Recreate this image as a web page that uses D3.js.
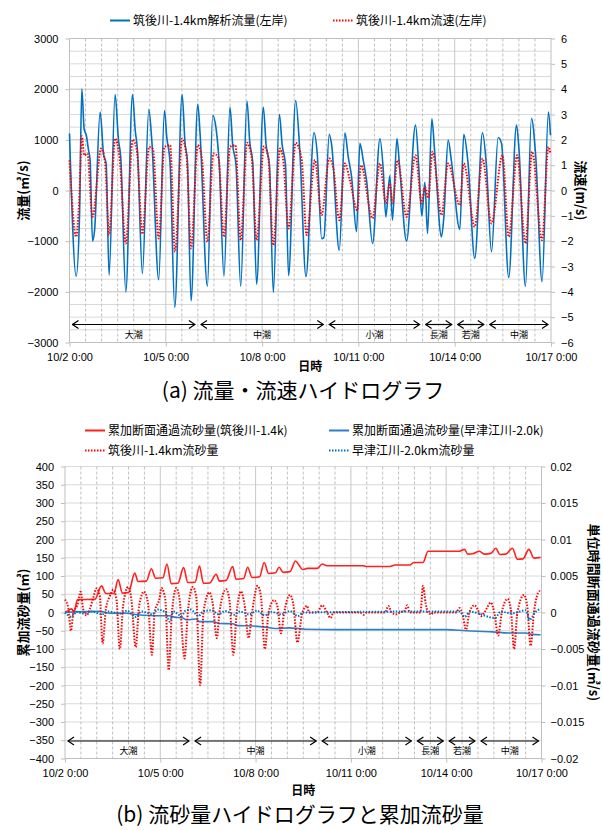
<!DOCTYPE html>
<html>
<head>
<meta charset="utf-8">
<script src="https://cdn.jsdelivr.net/npm/d3@7/dist/d3.min.js"></script>
<style>
body { margin: 0; background: #fff; }
text { font-family: "Liberation Sans", Arial, sans-serif; fill: #000; }
.jp { font-family: "Noto Sans CJK JP", sans-serif; }
</style>
</head>
<body>
<svg id="chart" width="603" height="830"></svg>
<script>
// ---- data (time = hours after 10/2 0:00) ----
var xTickLabels = ['10/2 0:00', '10/5 0:00', '10/8 0:00', '10/11 0:00', '10/14 0:00', '10/17 0:00'];
var tideNames = ['大潮', '中潮', '小潮', '長潮', '若潮', '中潮'];
var tideBounds = ['10/2 0:00', '10/6 0:00', '10/10 0:00', '10/13 0:00', '10/14 0:00', '10/15 0:00', '10/17 0:00'];

// (a) 筑後川-1.4km 解析流量 (m3/s)
var flowQ = [[0,1125],[5.0,-1690],[7.5,-500],[9.2,2000],[11.0,1200],[12.5,1100],[14.2,800],[15.4,600],[17.2,-1000],[18.7,-800],
  [22.9,1550],[25.4,730],[27.4,530],[29.6,-1670],[34.1,1895],[36.6,1000],[38.3,660],[42.1,-2000],[47.1,1895],[49.1,1200],
  [50.8,800],[54.5,-1640],[59.3,1600],[61.5,1000],[66.7,-1760],[71.0,1580],[72.7,1060],[75.2,530],[78.7,-2310],[84.2,1895],
  [86.4,930],[88.1,600],[90.9,-2180],[95.9,1700],[97.6,1130],[103.1,-1890],[107.1,1480],[109.6,1220],[112,500],[115.5,-1690],
  [120.0,1640],[122,900],[124.5,500],[128.0,-1890],[132.7,1760],[134.8,950],[137,550],[139.9,-1850],[144.9,1640],[147,900],
  [149.5,500],[152.4,-2010],[156.9,1500],[159,900],[161.5,500],[163.8,-1680],[169.1,1775],[172.3,730],[176.8,-1700],[182.8,1140],
  [185.3,700],[188.5,-950],[190.2,-930],[194.2,1110],[196.0,900],[201.7,-1180],[205.9,1140],[208.4,665],[210.9,270],[214.6,-815],
  [217.1,930],[219.6,600],[222.1,200],[226.6,-1045],[232.1,1020],[234.6,400],[236.5,-520],[239.5,290],[241.5,-585],[244.8,1025],
  [247.0,400],[252.0,-1000],[258.7,1290],[261.4,340],[263.4,-500],[265.7,160],[267.7,-850],[270.9,1415],[273.1,730],[278.1,-915],
  [279.9,-520],[283.1,995],[285.6,570],[291.8,-770],[294.8,1110],[298.0,535],[303.0,-1340],[308.8,1140],[311.7,500],[315.5,-1210],
  [320.5,1045],[323.0,930],[328.4,-1717],[334.2,1290],[336.1,800],[340.9,-1890],[345.4,1420],[348.6,665],[353.3,-1800],[358.1,1550],
  [359.6,1090]];

// (a) 筑後川-1.4km 流速 (m/s)
var velocityV = [[0,1.2],[5.0,-1.83],[7.2,-0.45],[9.2,2.14],[11.0,1.39],[13.4,1.46],[17.2,-1.04],[23.7,1.66],[26.6,1.1],[29.6,-1.76],
  [34.1,2.05],[37.4,1.3],[42.1,-2.09],[47.3,2.01],[50.3,1.6],[54.5,-1.72],[59.5,1.72],[62.3,1.65],[66.7,-1.89],[71.0,1.72],
  [75.2,1.79],[78.9,-2.42],[84.2,2.05],[87.6,1.3],[90.9,-2.29],[95.9,1.79],[98.9,1.3],[103.1,-2.03],[107.6,1.46],[111.3,1.3],
  [115.5,-1.83],[120.0,1.72],[124.0,1.79],[128.0,-1.96],[132.7,1.88],[136.2,1.3],[139.9,-1.96],[145.4,1.75],[148.6,1.3],[152.4,-2.16],
  [157.4,1.66],[159.8,1.2],[163.8,-1.5],[169.1,1.88],[173.5,1.26],[177.3,-1.76],[183.5,1.2],[188.5,-0.97],[194.2,1.26],[197.2,0.9],
  [201.7,-1.17],[205.9,1.07],[209.7,0.4],[215.1,-0.78],[217.9,1.0],[226.6,-1.1],[232.1,1.07],[236.5,-0.5],[239.5,0.28],[241.5,-0.5],
  [245.3,1.2],[252.0,-1.04],[258.7,1.39],[263.4,-0.51],[265.7,0.14],[268.2,-0.3],[271.4,1.53],[278.1,-0.97],[283.1,1.07],[291.8,-0.58],
  [294.8,1.07],[303.0,-1.43],[308.8,1.26],[315.5,-1.3],[323.7,1.39],[328.4,-1.83],[334.7,1.39],[340.9,-2.09],[345.9,1.53],[353.3,-1.96],
  [358.1,1.72],[359.6,1.46]];

// (b) 累加断面通過流砂量 筑後川-1.4k (m3)
var cumChikugo = [[0,0],[3.8,8],[5,10],[6.8,0],[9.3,35],[22.6,36],[27.6,73],[30.9,52],[37,52],[40.1,90],[43.4,53],[48,55],
  [52.7,108],[55.2,85],[61.5,86],[65.2,120],[68.5,94],[74,95],[77,133],[80.3,79],[85.3,80],[89.6,123],[92.8,82],[98.3,83],
  [101.6,127],[104.6,80],[109.3,81],[114.2,105],[116.7,86],[121.7,88],[126.7,126],[129.2,91],[135,93],[138,124],[141.3,96],
  [147,98],[150.5,137],[153.8,107],[159,109],[161.8,124],[164.8,110],[170,112],[174.2,141],[176.7,130],[179.5,118],[183,121],
  [190.5,121],[194.3,133],[198,128],[225.5,128],[228,126],[245.5,126],[249.3,130],[260.5,130],[263.5,137],[270.5,137],[274.3,168],
  [298,168],[301.8,173],[304.3,160],[308,161],[313,168],[316.8,160],[321.8,162],[325.5,176],[328.5,159],[333,160],[338,176],
  [341.8,146],[346,147],[350.5,173],[354.3,149],[359.3,151]];

// (b) 累加断面通過流砂量 早津江川-2.0k (m3)
var cumHayatsue = [[0,0],[26.3,3],[33.9,-2],[46.4,-2],[56.5,-7],[69,-9],[79,-9],[81.5,-12],[89,-15],[91.6,-20],[99,-18],
  [101.6,-25],[111.6,-25],[116.7,-30],[126.7,-31],[130.5,-36],[141.5,-37],[151.5,-40],[159,-44],[169,-42],[176.7,-44],[182,-46],
  [203,-47],[288,-47],[303,-50],[323,-53],[335.5,-56],[348,-56],[353,-60],[359.3,-61]];

// (b) 筑後川-1.4km 流砂量 (m3/s)
var fluxChikugo = [[0,0.00175],[2.5,0.0006],[4.5,-0.0025],[6.3,0],[9.3,0.001],[11.8,0.00285],[13.8,0.0004],[16.3,-0.0004],
  [18.8,0.0005],[21.3,0.002],[23.8,0.0033],[26.3,0.00225],[28.4,-0.00425],[30.9,0.0005],[33.9,0.00225],[36.4,0.0031],[38.9,0.00175],
  [41.4,-0.005],[43.9,0.0009],[47.7,0.0035],[50.2,0.00175],[53.4,-0.00475],[56.0,0.0009],[59.7,0.00285],[62.7,0.00125],[65.7,-0.0058],
  [67.7,0],[71.5,0.002],[72.8,0.00335],[75.8,0.00175],[78.3,-0.0079],[80.8,0],[84.1,0.00335],[86.6,0.00175],[90.3,-0.0063],[92.8,0],
  [96.6,0.0035],[99.1,0.00225],[102.1,-0.00995],[104.6,0],[109.1,0.00275],[111.6,0.00125],[114.7,-0.0035],[116.7,0],[121.7,0.0032],
  [124.2,0.00175],[127.2,-0.0058],[129.7,0],[133.0,0.0029],[135.5,0.00125],[138.7,-0.0035],[141.3,0],[145.5,0.00365],[148.0,0.00225],
  [151.0,-0.005],[153.8,0],[158.1,0.0017],[160.6,0.00075],[163.1,-0.00285],[165.6,0],[169.9,0.0024],[172.4,0.00125],[175.6,-0.0041],
  [179.3,0],[183,0.0009],[184.3,0],[190.5,0],[194.3,0.001],[198,0],[200.5,-0.00075],[203,0],[223,0],[225.5,-0.0003],[228,0],
  [241.8,0],[244.3,0.0009],[246.8,0],[250.5,-0.00025],[253,0],[256.8,0.00025],[258.5,0.001],[260.5,0],[268.5,0],[270.5,0.00365],
  [272.5,0.00125],[274.3,0],[276.8,-0.00025],[278,0],[295.5,0],[298,0.0006],[300,0],[303,-0.00235],[305.5,0],[309.3,0.001],
  [311.8,0.0004],[314.3,-0.0005],[316.8,0],[321.8,0.00135],[324.3,0],[327.3,-0.00315],[330,0],[334.3,0.00185],[336.8,0.0005],
  [339.3,-0.005],[341.8,0],[346.8,0.0024],[349.3,0.00075],[351.8,-0.00455],[354.3,0],[358.5,0.0029],[359.3,0.00275]];

// (b) 早津江川-2.0km 流砂量 (m3/s)
var fluxHayatsue = [[0,0],[5,-0.0006],[9,0.0001],[14,-0.00015],[20,0.00015],[28,-0.00025],[33,0.00015],[41,-0.00015],[47,0.00025],
  [53,-0.0006],[58,0.00015],[66,-0.00025],[70,0.0004],[76,0],[79,-0.00125],[82,0.00015],[88,-0.0005],[91,0.00025],[95,0.0004],
  [101,-0.0005],[104,0.0001],[111,0.0003],[116,-0.00025],[121,0.0002],[128,-0.0003],[132,0.00015],[139,-0.00025],[145,0.00025],
  [151,-0.0004],[156,0.0001],[163,-0.00025],[170,0.0002],[176,-0.0005],[180,0],[298,0.00015],[302,-0.0006],[306,0.0001],
  [325,-0.00075],[329,0.0001],[338,-0.0001],[348,0.0003],[351,-0.001],[355,0],[359.3,0.0005]];

// ---- helpers ----
var parseT = d3.timeParse('%m/%d %H:%M');
var t0 = parseT('10/2 0:00');
function hrs(h) { return new Date(t0.getTime() + h * 3600e3); }

var svg = d3.select('#chart');

// open arrow head (points along +x, start one is flipped)
svg.append('defs').append('marker').attr('id', 'arr').attr('viewBox', '-7 -5 8 10')
  .attr('refX', 0).attr('refY', 0).attr('markerWidth', 8).attr('markerHeight', 10)
  .attr('markerUnits', 'userSpaceOnUse').attr('orient', 'auto-start-reverse')
  .append('path').attr('d', 'M-6,-4L0,0L-6,4').attr('fill', 'none').attr('stroke', '#000').attr('stroke-width', 1.2);

function drawPanel(p) {
  var x = d3.scaleTime().domain([t0, hrs(360)]).range([p.left, p.right]);
  var yL = d3.scaleLinear().domain(p.yLdom).range([p.bottom, p.top]);
  var yR = d3.scaleLinear().domain(p.yRdom).range([p.bottom, p.top]);
  var g = svg.append('g');

  // horizontal grid
  g.selectAll('.hg').data(p.hGrid).enter().append('line')
    .attr('x1', p.left).attr('x2', p.right)
    .attr('y1', d => yL(d)).attr('y2', d => yL(d))
    .attr('stroke', d => p.hMajor(d) ? '#bfbfbf' : '#d9d9d9').attr('stroke-width', 1);

  // vertical grid: dashed every 12h, solid every 3 days
  var vh = d3.range(12, 360, 12);
  g.selectAll('.vg').data(vh).enter().append('line')
    .attr('x1', d => x(hrs(d))).attr('x2', d => x(hrs(d)))
    .attr('y1', p.top).attr('y2', p.bottom)
    .attr('stroke', d => d % 72 === 0 ? '#c8c8c8' : '#bfbfbf')
    .attr('stroke-dasharray', d => d % 72 === 0 ? null : '3,2')
    .attr('stroke-width', 1);

  // frame
  g.append('line').attr('x1', p.left).attr('x2', p.left).attr('y1', p.top).attr('y2', p.bottom).attr('stroke', '#bfbfbf');
  g.append('line').attr('x1', p.right).attr('x2', p.right).attr('y1', p.top).attr('y2', p.bottom).attr('stroke', '#bfbfbf');
  g.append('line').attr('x1', p.left).attr('x2', p.right).attr('y1', p.bottom).attr('y2', p.bottom).attr('stroke', '#bfbfbf');

  // axes
  var axL = g.append('g').attr('transform', 'translate(' + p.left + ',0)')
    .call(d3.axisLeft(yL).tickValues(p.yLticks).tickSize(4).tickPadding(7).tickFormat(p.yLfmt));
  var axR = g.append('g').attr('transform', 'translate(' + p.right + ',0)')
    .call(d3.axisRight(yR).tickValues(p.yRticks).tickSize(4).tickPadding(p.rPad).tickFormat(p.yRfmt));
  var tickDates = xTickLabels.map(parseT);
  var axB = g.append('g').attr('transform', 'translate(0,' + p.bottom + ')')
    .call(d3.axisBottom(x).tickValues(tickDates).tickSize(4).tickPadding(7)
      .tickFormat((d, i) => xTickLabels[i]));
  [axL, axR, axB].forEach(function (a) {
    a.select('.domain').remove();
    a.selectAll('line').attr('stroke', '#bfbfbf');
    a.selectAll('text').attr('font-size', 11).attr('font-family', '"Liberation Sans", Arial, sans-serif').attr('fill', '#000');
  });

  // series
  p.series.forEach(function (s) {
    var sc = s.axis === 'R' ? yR : yL;
    g.append('path').datum(s.data)
      .attr('fill', 'none').attr('stroke', s.color).attr('stroke-width', s.width)
      .attr('stroke-dasharray', s.dash || null)
      .attr('d', d3.line().curve(d3.curveMonotoneX).x(d => x(hrs(d[0]))).y(d => sc(d[1])));
  });

  // tide arrows
  var bx = tideBounds.map(parseT);
  tideNames.forEach(function (name, i) {
    var xa = x(bx[i]) + 3, xb = x(bx[i + 1]) - 3;
    g.append('line').attr('x1', xa).attr('x2', xb).attr('y1', p.arrowY).attr('y2', p.arrowY)
      .attr('stroke', '#000').attr('stroke-width', 1.2)
      .attr('marker-start', 'url(#arr)').attr('marker-end', 'url(#arr)');
    g.append('text').attr('class', 'jp').attr('x', (xa + xb) / 2).attr('y', p.arrowY + 13)
      .attr('text-anchor', 'middle').attr('font-size', 9).attr('fill', '#333').text(name);
  });

  // axis titles
  g.append('text').attr('class', 'jp').attr('font-weight', 'bold').attr('font-size', 13)
    .attr('text-anchor', 'middle')
    .attr('transform', 'translate(' + p.lTitleX + ',' + (p.top + p.bottom) / 2 + ') rotate(-90)')
    .text(p.lTitle);
  g.append('text').attr('class', 'jp').attr('font-weight', 'bold').attr('font-size', 13)
    .attr('text-anchor', 'middle')
    .attr('transform', 'translate(' + p.rTitleX + ',' + (p.top + p.bottom) / 2 + ') rotate(90)')
    .text(p.rTitle);
  g.append('text').attr('class', 'jp').attr('font-weight', 'bold').attr('font-size', 12)
    .attr('text-anchor', 'middle').attr('x', (p.left + p.right) / 2).attr('y', p.xTitleY).text('日時');
  g.append('text').attr('class', 'jp').attr('font-size', 21)
    .attr('text-anchor', 'middle').attr('x', p.captionX).attr('y', p.captionY).text(p.caption);

  // legend
  p.legend.forEach(function (l) {
    g.append('line').attr('x1', l.x).attr('x2', l.x + 20).attr('y1', l.y).attr('y2', l.y)
      .attr('stroke', l.color).attr('stroke-width', 2).attr('stroke-dasharray', l.dash || null);
    g.append('text').attr('class', 'jp').attr('x', l.x + 23).attr('y', l.y + 4)
      .attr('font-size', 12).text(l.label);
  });
}

// (a)
drawPanel({
  left: 69.5, right: 551, top: 38.5, bottom: 342.5,
  yLdom: [-3000, 3000], yRdom: [-6, 6],
  yLticks: d3.range(-3000, 3001, 1000), yRticks: d3.range(-6, 7, 1),
  yLfmt: d3.format('d'), yRfmt: d3.format('d'), rPad: 6,
  hGrid: d3.range(-2750, 3001, 250), hMajor: d => d % 1000 === 0,
  series: [
    { data: flowQ, axis: 'L', color: '#0070c0', width: 1.6 },
    { data: velocityV, axis: 'R', color: '#ff0000', width: 2, dash: '1.5,1.5' }
  ],
  arrowY: 324.5,
  lTitle: '流量(㎥/s)', lTitleX: 28, rTitle: '流速(m/s)', rTitleX: 576,
  xTitleY: 371, caption: '(a) 流量・流速ハイドログラフ', captionX: 303, captionY: 398,
  legend: [
    { x: 110, y: 20.5, color: '#0070c0', label: '筑後川-1.4km解析流量(左岸)' },
    { x: 333, y: 20.5, color: '#ff0000', dash: '1.5,1.5', label: '筑後川-1.4km流速(左岸)' }
  ]
});

// (b)
drawPanel({
  left: 65, right: 541.5, top: 466.5, bottom: 758.5,
  yLdom: [-400, 400], yRdom: [-0.02, 0.02],
  yLticks: d3.range(-400, 401, 50), yRticks: d3.range(-0.02, 0.0201, 0.005),
  yLfmt: d3.format('d'), yRfmt: d => (Math.abs(d) < 1e-9 ? '0' : d3.format('')(+d.toFixed(3))), rPad: 5,
  hGrid: d3.range(-350, 401, 50), hMajor: d => false,
  series: [
    { data: cumChikugo, axis: 'L', color: '#ff2020', width: 1.6 },
    { data: cumHayatsue, axis: 'L', color: '#2e7fc8', width: 1.6 },
    { data: fluxChikugo, axis: 'R', color: '#ff0000', width: 2, dash: '1.5,1.5' },
    { data: fluxHayatsue, axis: 'R', color: '#0070c0', width: 2, dash: '1.5,1.5' }
  ],
  arrowY: 741,
  lTitle: '累加流砂量(㎥)', lTitleX: 28, rTitle: '単位時間断面通過流砂量(㎥/s)', rTitleX: 588.5,
  xTitleY: 795, caption: '(b) 流砂量ハイドログラフと累加流砂量', captionX: 300, captionY: 822,
  legend: [
    { x: 85, y: 430.5, color: '#ff2020', label: '累加断面通過流砂量(筑後川-1.4k)' },
    { x: 329, y: 430.5, color: '#2e7fc8', label: '累加断面通過流砂量(早津江川-2.0k)' },
    { x: 85, y: 450.5, color: '#ff0000', dash: '1.5,1.5', label: '筑後川-1.4km流砂量' },
    { x: 329, y: 450.5, color: '#0070c0', dash: '1.5,1.5', label: '早津江川-2.0km流砂量' }
  ]
});
</script>
</body>
</html>
